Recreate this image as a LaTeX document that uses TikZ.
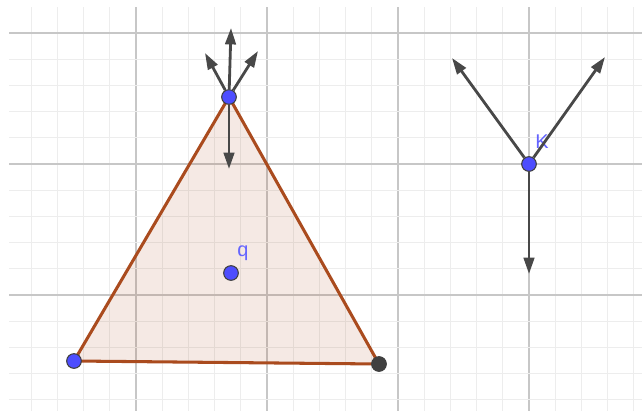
\documentclass[tikz,border=0pt]{standalone}
\usepackage{fontspec}
\setmainfont{Liberation Sans}
\usetikzlibrary{arrows.meta}
\definecolor{ggbrown}{RGB}{170,75,30}
\definecolor{ggblue}{RGB}{77,77,255}
\definecolor{gglabel}{RGB}{100,100,255}
\definecolor{ggdark}{RGB}{64,64,64}
\definecolor{ggvec}{RGB}{72,72,72}
\newcommand{\GL}{9}
\newcommand{\GT}{7}
\newcommand{\GR}{642}
\newcommand{\GB}{411}
\tikzset{
  minorline/.style={black!7,line width=0.8pt},
  majorline/.style={black!22,line width=1.1pt},
  edge/.style={draw=ggbrown,line width=2.6pt,line join=round},
  vec/.style={ggvec,line width=2.4pt,-{Triangle[length=14pt,width=9pt]}},
  dot/.style={circle,draw=black!75,line width=0.9pt,inner sep=0pt,minimum size=12.5pt},
  lbl/.style={font=\fontsize{17}{19}\selectfont,text=gglabel,inner sep=0pt},
}

\begin{document}
\begin{tikzpicture}[x=0.03cm,y=-0.03cm]
\useasboundingbox (0,0) rectangle (642,411);

%% ---------------- grid ----------------
\foreach \i in {-4,...,19}{
  \pgfmathtruncatemacro{\m}{mod(\i+20,5)}
  \ifnum\m=0 \def\gs{majorline}\else \def\gs{minorline}\fi
  \draw[\gs] ({136+26.2*\i},\GT) -- ({136+26.2*\i},\GB);
}
\foreach \j in {0,...,14}{
  \pgfmathtruncatemacro{\m}{mod(\j,5)}
  \ifnum\m=0 \def\gs{majorline}\else \def\gs{minorline}\fi
  \draw[\gs] (\GL,{33+26.2*\j}) -- (\GR,{33+26.2*\j});
}

%% ---------------- triangle ----------------
\coordinate (a) at (229,97);
\coordinate (b) at (74,361);
\coordinate (c) at (379,364);
\fill[ggbrown,opacity=0.12] (a) -- (b) -- (c) -- cycle;
\draw[edge] (a) -- (b) -- (c) -- cycle;

\node[dot,fill=ggblue] (A) at (a) {};
\node[dot,fill=ggblue] (B) at (b) {};
\node[dot,fill=ggdark] (C) at (c) {};
\node[dot,fill=ggblue] (Q) at (231,273) {};
\node[lbl] (qlabel) at (243,253) {q};

%% ---------------- arrows at the top vertex ----------------
\coordinate (Aup) at (231,28);
\coordinate (Aleft) at (205,53);
\coordinate (Aright) at (258,51);
\coordinate (Adown) at (229,169);
\foreach \t in {Aup,Aleft,Aright,Adown}
  \draw[vec] (A) -- (\t);

%% ---------------- point K ----------------
\node[dot,fill=ggblue] (K) at (529,164) {};
\node[lbl] (klabel) at (542,142) {K};
\coordinate (Kleft) at (452,58);
\coordinate (Kright) at (605,57);
\coordinate (Kdown) at (529,274);
\foreach \t in {Kleft,Kright,Kdown}
  \draw[vec] (K) -- (\t);

\end{tikzpicture}
\end{document}
